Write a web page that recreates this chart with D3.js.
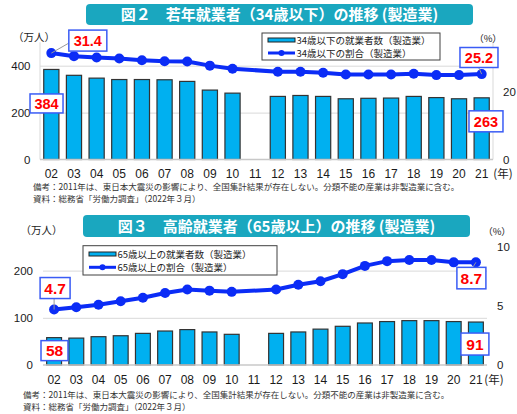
<!DOCTYPE html>
<html><head><meta charset="utf-8">
<script src="https://cdn.jsdelivr.net/npm/d3@7"></script>
<style>body{margin:0;background:#fff}svg{display:block}</style>
</head><body><svg id="c" width="517" height="414"></svg>
<script>
// ---------- data ----------
const years = ["02","03","04","05","06","07","08","09","10","11","12","13","14","15","16","17","18","19","20","21"];
const youngWorkers = [384,359,347,341,341,340,333,296,283,null,269,273,269,259,261,262,269,264,259,263];
const youngShare   = [31.4,30.5,30.1,29.8,29.3,29.0,28.9,27.7,26.8,null,25.9,25.9,25.6,25.1,25.1,25.1,25.3,24.9,24.9,25.2];
const elderWorkers = [58,57,60,62,67,72,75,70,65,null,67,70,76,82,89,92,94,94,92,91];
const elderShare   = [4.7,4.9,5.1,5.4,5.7,6.1,6.4,6.3,6.2,null,6.4,6.8,7.1,7.7,8.4,8.8,8.9,8.9,8.7,8.7];
const leftTicksTop = [0,200,400];
const rightTicksTop = [0,20];
const leftTicksBottom = [0,100,200];
const rightTicksBottom = [0,5,10];
const titleTop = "図２　若年就業者（34歳以下）の推移 (製造業)";
const titleBottom = "図３　高齢就業者（65歳以上）の推移 (製造業)";
const legendTop = ["34歳以下の就業者数（製造業）","34歳以下の割合（製造業）"];
const legendBottom = ["65歳以上の就業者数（製造業）","65歳以上の割合（製造業）"];
const note1 = "備考：2011年は、東日本大震災の影響により、全国集計結果が存在しない。分類不能の産業は非製造業に含む。";
const note2 = "資料：総務省「労働力調査」（2022年３月）";

// ---------- style ----------
const JP = "'Noto Sans CJK JP','Noto Sans',sans-serif";
const NUM = "'Liberation Sans',Arial,sans-serif";
const BAR = "#00b0f0", LINE = "#0b2cf6", BANNER = "#1aa7bf", RED = "#ff0000", BOXB = "#3a5cf5";
const svg = d3.select("#c");

function chart(o){
  const g = svg.append("g");
  const bars = years.map((k,i)=>({k, v:o.bars[i]}));
  const pts = years.map((k,i)=>({k, v:o.line[i]}));
  const x = d3.scaleBand().domain(years).range([o.left,o.right]).paddingInner(0.33).paddingOuter(0.165);
  const yL = d3.scaleLinear().domain([0,o.lMax]).range([o.base,o.top]);
  const yR = d3.scaleLinear().domain([0,o.rMax]).range([o.base,o.top]);
  const cx = k => x(k)+x.bandwidth()/2;

  // banner
  g.append("rect").attr("x",o.banner[0]).attr("y",o.banner[1]).attr("width",o.banner[2]).attr("height",o.banner[3])
    .attr("rx",4).attr("fill",BANNER);
  g.append("text").attr("x",o.banner[0]+o.banner[2]/2).attr("y",o.banner[1]+o.banner[3]/2+5.5)
    .attr("text-anchor","middle").attr("fill","#fff").attr("font-family",JP).attr("font-weight",700)
    .attr("font-size",15).text(o.title);

  // gridlines
  g.append("g").attr("transform",`translate(${o.left},0)`)
    .call(d3.axisLeft(yL).tickValues(o.lTicks.filter(d=>d>0)).tickSize(-(o.right-o.left)).tickFormat(""))
    .call(s=>{s.select(".domain").remove(); s.selectAll("line").attr("stroke","#d9d9d9");});
  if(o.vlines){
    [o.left,o.right].forEach(xx=>g.append("line").attr("x1",xx).attr("x2",xx).attr("y1",o.top).attr("y2",o.base)
      .attr("stroke","#d9d9d9"));
  }

  // bars
  g.append("g").selectAll("rect").data(bars.filter(d=>d.v!=null)).join("rect")
    .attr("x",d=>x(d.k)).attr("width",x.bandwidth()).attr("y",d=>yL(d.v)).attr("height",d=>o.base-yL(d.v))
    .attr("fill",BAR).attr("stroke","#333").attr("stroke-width",1.2);

  // baseline
  g.append("line").attr("x1",o.left).attr("x2",o.right).attr("y1",o.base).attr("y2",o.base)
    .attr("stroke","#c8c8c8").attr("stroke-width",1.5);

  // axes
  const ax = g.append("g").attr("transform",`translate(0,${o.base})`)
    .call(d3.axisBottom(x).tickSize(0).tickPadding(o.xPad));
  ax.select(".domain").remove();
  ax.selectAll("text").attr("font-family",NUM).attr("font-size",12).attr("fill","#1a1a1a");
  const al = g.append("g").attr("transform",`translate(${o.left},0)`)
    .call(d3.axisLeft(yL).tickValues(o.lTicks).tickSize(0).tickPadding(o.lPad));
  al.select(".domain").remove();
  al.selectAll("text").attr("font-family",NUM).attr("font-size",11.5).attr("fill","#1a1a1a");
  const ar = g.append("g").attr("transform",`translate(${o.right},0)`)
    .call(d3.axisRight(yR).tickValues(o.rTicks).tickSize(0).tickPadding(10));
  ar.select(".domain").remove();
  ar.selectAll("text").attr("font-family",NUM).attr("font-size",11.5).attr("fill","#1a1a1a");

  // unit labels
  g.append("text").attr("x",o.unitL[0]).attr("y",o.unitL[1]).attr("text-anchor","middle")
    .attr("font-family",JP).attr("font-size",10.5).attr("fill","#1a1a1a").text("（万人）");
  g.append("text").attr("x",o.unitR[0]).attr("y",o.unitR[1]).attr("text-anchor","middle")
    .attr("font-family",JP).attr("font-size",9.5).attr("fill","#1a1a1a").text("（%）");
  g.append("text").attr("x",o.unitX[0]).attr("y",o.unitX[1]).attr("text-anchor","middle")
    .attr("font-family",JP).attr("font-size",11.5).attr("fill","#1a1a1a").text("(年)");

  // line
  const lp = pts.filter(d=>d.v!=null);
  g.append("path").datum(lp).attr("fill","none").attr("stroke",LINE).attr("stroke-width",4)
    .attr("stroke-linejoin","round").attr("d",d3.line().x(d=>cx(d.k)).y(d=>yR(d.v)));
  g.append("g").selectAll("circle").data(lp).join("circle")
    .attr("cx",d=>cx(d.k)).attr("cy",d=>yR(d.v)).attr("r",5).attr("fill",LINE);

  // legend
  const L = o.legend;
  g.append("rect").attr("x",L.x).attr("y",L.y).attr("width",L.w).attr("height",L.h)
    .attr("fill","#fff").attr("stroke","#404040").attr("stroke-width",1);
  g.append("rect").attr("x",L.x+6).attr("y",L.y+L.r1-2).attr("width",27).attr("height",4)
    .attr("fill",BAR).attr("stroke","#222").attr("stroke-width",1);
  g.append("line").attr("x1",L.x+6).attr("x2",L.x+33).attr("y1",L.y+L.r2).attr("y2",L.y+L.r2)
    .attr("stroke",LINE).attr("stroke-width",3);
  g.append("circle").attr("cx",L.x+19.5).attr("cy",L.y+L.r2).attr("r",3).attr("fill",LINE);
  [L.r1,L.r2].forEach((ry,i)=>g.append("text").attr("x",L.x+34.5).attr("y",L.y+ry+3.5)
    .attr("font-family",JP).attr("font-size",9.5).attr("fill","#222").text(o.legendText[i]));

  // callouts
  function box(cxv, topv, w, h, txt, fs, leader){
    if(leader) g.append("line").attr("x1",leader[0]).attr("y1",leader[1]).attr("x2",leader[2]).attr("y2",leader[3])
      .attr("stroke","#999").attr("stroke-width",1);
    g.append("rect").attr("x",cxv-w/2).attr("y",topv).attr("width",w).attr("height",h)
      .attr("fill","#fff").attr("stroke",BOXB).attr("stroke-width",1.5);
    g.append("text").attr("x",cxv).attr("y",topv+h/2+fs*0.36).attr("text-anchor","middle")
      .attr("font-family",NUM).attr("font-weight",700).attr("font-size",fs).attr("fill",RED).text(txt);
  }
  const f = years[0], l = years[years.length-1];
  const n = years.length-1;
  o.callouts(box, {x0:cx(f), x1:cx(l), b0:yL(o.bars[0]), b1:yL(o.bars[n]), p0:yR(o.line[0]), p1:yR(o.line[n]),
    v:{b0:o.bars[0], b1:o.bars[n], p0:o.line[0], p1:o.line[n]}});

  // notes
  [note1,note2].forEach((t,i)=>g.append("text").attr("x",o.noteX).attr("y",o.noteY+i*11.5)
    .attr("font-family",JP).attr("font-size",8.5).attr("fill","#333").text(t));
}

chart({
  bars: youngWorkers, line: youngShare, title: titleTop, legendText: legendTop,
  left:40, right:493, base:159.5, top:42.25, lMax:500, rMax:34.6,
  lTicks:leftTicksTop, rTicks:rightTicksTop, vlines:true, xPad:10, lPad:9.5,
  banner:[86,4,387,21], unitL:[34,40.5], unitR:[488,41.5], unitX:[503,177.5],
  legend:{x:262,y:33,w:178,h:27,r1:7,r2:20},
  noteX:33, noteY:190,
  callouts:(box,p)=>{
    box(p.x0+36.5, p.p0-23, 38, 21, p.v.p0.toFixed(1), 14.5, [p.x0, p.p0, p.x0+17.5, p.p0-10]);
    box(p.x0-4.8, p.b0+24.5, 33, 19, String(p.v.b0), 14.5);
    box(p.x1-2.7, p.p1-26.6, 38, 20, p.v.p1.toFixed(1), 14.5, [p.x1, p.p1, p.x1-3, p.p1-6.6]);
    box(p.x1+4.3, p.b1+13, 34, 21, String(p.v.b1), 14.5);
  }
});

chart({
  bars: elderWorkers, line: elderShare, title: titleBottom, legendText: legendBottom,
  left:43, right:487, base:365, top:247, lMax:250, rMax:10,
  lTicks:leftTicksBottom, rTicks:rightTicksBottom, vlines:false, xPad:10.5, lPad:10,
  banner:[83,215,387,22], unitL:[41.5,234], unitR:[497,234.5], unitX:[494,383.5],
  legend:{x:83,y:245.7,w:194,h:29.3,r1:8.3,r2:21.6},
  noteX:23, noteY:398,
  callouts:(box,p)=>{
    box(p.x0+1, p.p0-32, 30, 21, p.v.p0.toFixed(1), 15.5, [p.x0, p.p0, p.x0, p.p0-11]);
    box(p.x0+0.4, p.b0+3, 27, 20, String(p.v.b0), 15.5);
    box(p.x1-4.5, p.p1+5, 29, 21.5, p.v.p1.toFixed(1), 15.5, [p.x1, p.p1, p.x1-3, p.p1+5]);
    box(p.x1-1, p.b1+11, 28, 22, String(p.v.b1), 15.5);
  }
});
</script></body></html>
